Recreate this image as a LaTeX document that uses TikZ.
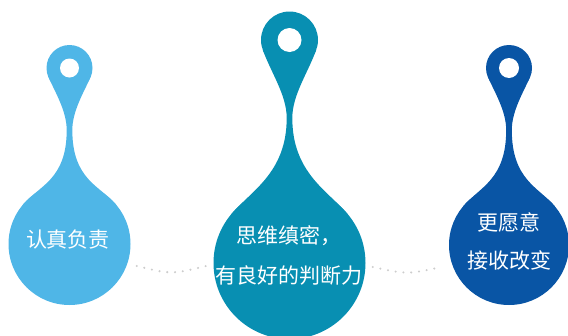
\documentclass[tikz,border=0pt]{standalone}
\usepackage{fontspec}
\newfontfamily\cjk{Noto Sans CJK SC}
\definecolor{cLeft}{RGB}{79,182,231}
\definecolor{cMid}{RGB}{8,143,178}
\definecolor{cRight}{RGB}{9,85,165}
\definecolor{dotgray}{RGB}{205,205,205}
% #1 colour, #2 cx, #3 top cy, #4 top r, #5 neck y, #6 big cy, #7 big r, #8 hole r
\newcommand{\dropshape}[8]{%
\begin{scope}[shift={(#2,0)}]
\fill[#1] (0,#3) circle (#4);
\fill[#1] (0,#6) circle (#7);
\fill[#1] ({#4*cos(\tA)},{#3+#4*sin(\tA)})
  .. controls ({#4*cos(\tA)-\kA*sin(\tA)},{#3+#4*sin(\tA)+\kA*cos(\tA)}) and (\nw,{#5-\kB}) .. (\nw,#5)
  .. controls (\nw,{#5+\kC}) and ({#7*cos(40)-\kD*sin(40)},{#6-#7*sin(40)-\kD*cos(40)}) .. ({#7*cos(40)},{#6-#7*sin(40)})
  -- ({-#7*cos(40)},{#6-#7*sin(40)})
  .. controls ({-#7*cos(40)+\kD*sin(40)},{#6-#7*sin(40)-\kD*cos(40)}) and (-\nw,{#5+\kC}) .. (-\nw,#5)
  .. controls (-\nw,{#5-\kB}) and ({-#4*cos(\tA)+\kA*sin(\tA)},{#3+#4*sin(\tA)+\kA*cos(\tA)}) .. ({-#4*cos(\tA)},{#3+#4*sin(\tA)})
  -- cycle;
\fill[white] (0,#3) circle (#8);
\end{scope}}
\tikzset{
  lbl/.style={text=white, inner sep=0pt, align=center, font=\cjk\fontsize{21}{24}\selectfont},
  dotline/.style={draw=dotgray, line width=2.3, line cap=round, dash pattern=on 0pt off 7.8pt}
}
\begin{document}
\begin{tikzpicture}[x=1pt,y=-1pt]
\useasboundingbox (0,0) rectangle (568,335);
\clip (0,0) rectangle (568,335);
% dotted connectors
\coordinate (d1s) at (136.7,266);
\coordinate (d1e) at (206,266);
\coordinate (d2s) at (372.7,267);
\coordinate (d2e) at (441.7,267);
\draw[dotline] (d1s) .. controls (171.35,274.4) .. (d1e);
\draw[dotline] (d2s) .. controls (407.2,274.4) .. (d2e);
% drops
\def\tA{25}\def\kA{18}\def\kB{18}\def\kC{50}\def\kD{25}\def\nw{2.8}
\dropshape{cLeft}{69.5}{68}{23}{130}{244}{61}{9.5}
\dropshape{cRight}{509}{68}{23}{130}{245}{60}{10}
\def\tA{20}\def\kA{25}\def\kB{23}\def\kC{55}\def\kD{30}\def\nw{2.8}
\dropshape{cMid}{289.5}{40}{28.5}{118}{263}{76}{12}
% labels
\node[lbl] (t1) at (68,240) {认真负责};
\node[lbl, font=\cjk\fontsize{21}{40}\selectfont] (t2) at (289,255) {思维缜密，\\有良好的判断力};
\node[lbl, font=\cjk\fontsize{21}{38}\selectfont] (t3) at (509,241) {更愿意\\接收改变};
\end{tikzpicture}
\end{document}
